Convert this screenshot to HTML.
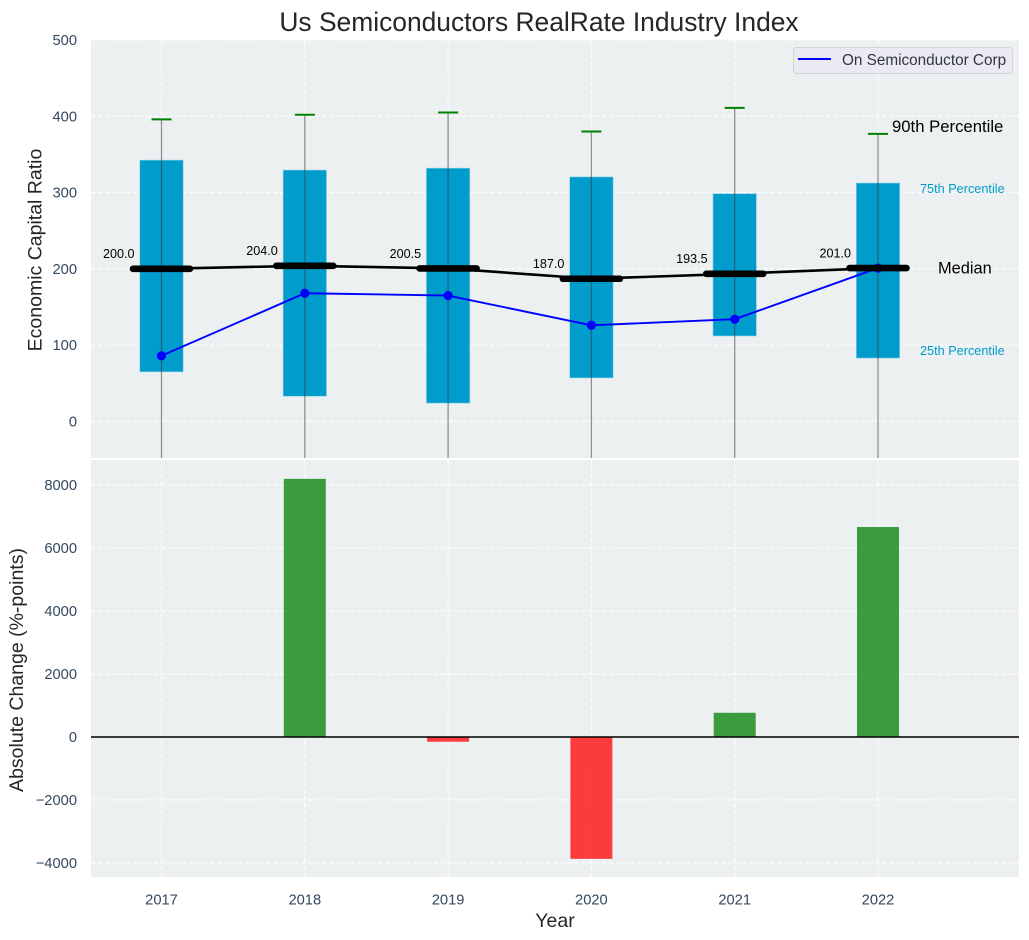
<!DOCTYPE html>
<html>
<head>
<meta charset="utf-8">
<title>Us Semiconductors RealRate Industry Index</title>
<style>
html,body{margin:0;padding:0;background:#fff;}
svg{display:block;font-family:"Liberation Sans",Arial,sans-serif;}
</style>
</head>
<body>
<svg id="chart" xmlns="http://www.w3.org/2000/svg" width="1029" height="940" viewBox="0 0 1029 940">
<defs>
<clipPath id="clip-top"><rect x="91" y="40" width="928" height="418"/></clipPath>
<clipPath id="clip-bottom"><rect x="91" y="460" width="928" height="417"/></clipPath>
</defs>
<rect x="91" y="40" width="928" height="418" fill="#ecf0f1"/>
<rect x="91" y="460" width="928" height="417" fill="#ecf0f1"/>
<g id="grid"></g>
<g id="marks-top" clip-path="url(#clip-top)"></g>
<g id="marks-bottom" clip-path="url(#clip-bottom)"></g>
<g id="labels"></g>
<text x="539" y="31" text-anchor="middle" font-size="26.4" fill="#262626">Us Semiconductors RealRate Industry Index</text>
<text transform="translate(41.5,250) rotate(-90)" text-anchor="middle" font-size="19.5" fill="#262626">Economic Capital Ratio</text>
<text transform="translate(23,670) rotate(-90)" text-anchor="middle" font-size="19.5" fill="#262626">Absolute Change (%-points)</text>
<text x="555" y="927" text-anchor="middle" font-size="19.5" fill="#262626">Year</text>
<g>
<rect x="793.5" y="47.5" width="219" height="26" rx="3" fill="#eaeaf2" stroke="#d2d4d8" stroke-width="1"/>
<line x1="798" y1="59" x2="831" y2="59" stroke="#0000ff" stroke-width="2"/>
<text x="842" y="65" font-size="15.3" fill="#34373d">On Semiconductor Corp</text>
</g>
<text x="892" y="132" font-size="16.7" fill="#000">90th Percentile</text>
<text x="920" y="193" font-size="12.7" fill="#009ccc">75th Percentile</text>
<text x="938" y="273.5" font-size="16.4" fill="#000">Median</text>
<text x="920" y="355" font-size="12.7" fill="#009ccc">25th Percentile</text>
</svg>
<script>
const years = [2017, 2018, 2019, 2020, 2021, 2022];
const p90 = [396, 402, 405, 380, 411, 377];
const p75 = [342.5, 329.5, 332, 320.5, 298.5, 312.5];
const medians = [200, 204, 200.5, 187, 193.5, 201];
const p25 = [65, 33, 24, 57, 112, 83];
const p10 = [-70, -70, -70, -70, -70, -70];
const company = [86, 168, 165, 126, 134, 201];
const absoluteChange = [0, 8200, -150, -3870, 770, 6670];
const topTicks = [0, 100, 200, 300, 400, 500];
const bottomTicks = [-4000, -2000, 0, 2000, 4000, 6000, 8000];

const NS = 'http://www.w3.org/2000/svg';
const xScale = function (v) { return 161.5 + (v - 2017) * 143.3; };
const yTop = function (v) { return 421.4 - v * 0.7628; };
const yBottom = function (v) { return 737 - v * 0.03148; };
const grid = document.getElementById('grid');
const top_ = document.getElementById('marks-top');
const bottom_ = document.getElementById('marks-bottom');
const labels = document.getElementById('labels');

function make(parent, tag, props, text) {
  const el = document.createElementNS(NS, tag);
  for (const k in props) el.setAttribute(k, props[k]);
  if (text !== undefined) el.textContent = text;
  parent.appendChild(el);
  return el;
}
const gridStyle = { stroke: '#ffffff', 'stroke-width': 1.1, 'stroke-dasharray': '4.5 2.5', opacity: 0.95 };

topTicks.forEach(function (t) {
  const line = make(grid, 'line', Object.assign({ x1: 91, x2: 1019, y1: yTop(t), y2: yTop(t) }, gridStyle));
  
  
  const label = make(labels, 'text', { x: 77, y: yTop(t) + 5, 'text-anchor': 'end', 'font-size': 14.7, fill: '#34495e' }, String(t));
  
  
});
bottomTicks.forEach(function (t) {
  const line = make(grid, 'line', Object.assign({ x1: 91, x2: 1019, y1: yBottom(t), y2: yBottom(t) }, gridStyle));
  
  
  const label = make(labels, 'text', { x: 77, y: yBottom(t) + 5, 'text-anchor': 'end', 'font-size': 14.7, fill: '#34495e' }, String(t).replace('-', '\u2212'));
  
  
});
years.forEach(function (yr) {
  const a = make(grid, 'line', Object.assign({ x1: xScale(yr), x2: xScale(yr), y1: 40, y2: 458 }, gridStyle));
  
  
  const b = make(grid, 'line', Object.assign({ x1: xScale(yr), x2: xScale(yr), y1: 460, y2: 877 }, gridStyle));
  
  
  const label = make(labels, 'text', { x: xScale(yr), y: 904.5, 'text-anchor': 'middle', 'font-size': 14.7, fill: '#34495e' }, String(yr));
  
  
});

years.forEach(function (yr, i) {
  const x = xScale(yr);
  const box = make(top_, 'rect', { x: x - 21.7, width: 43.4, y: yTop(p75[i]), height: yTop(p25[i]) - yTop(p75[i]), fill: '#009ccc', stroke: '#8fd0e6', 'stroke-width': 0.6 });
  
  
  const whisker = make(top_, 'line', { x1: x, x2: x, y1: yTop(p90[i]), y2: yTop(p10[i]), stroke: '#3c3c3c', 'stroke-width': 1.3, opacity: 0.55 });
  
  
  const cap = make(top_, 'line', { x1: x - 10, x2: x + 10, y1: yTop(p90[i]), y2: yTop(p90[i]), stroke: '#008000', 'stroke-width': 2 });
  
  
});

const companyLine = make(top_, 'polyline', { points: years.map(function (yr, i) { return xScale(yr) + ',' + yTop(company[i]); }).join(' '), fill: 'none', stroke: '#0000ff', 'stroke-width': 1.9 });


years.forEach(function (yr, i) {
  const dot = make(top_, 'circle', { cx: xScale(yr), cy: yTop(company[i]), r: 4.6, fill: '#0000ff' });
  
  
});

const medianLine = make(top_, 'polyline', { points: years.map(function (yr, i) { return xScale(yr) + ',' + yTop(medians[i]); }).join(' '), fill: 'none', stroke: '#000', 'stroke-width': 2.6 });


years.forEach(function (yr, i) {
  const x = xScale(yr);
  const y = yTop(medians[i]);
  const bar = make(top_, 'line', { x1: x - 28.5, x2: x + 28.5, y1: y, y2: y, stroke: '#000', 'stroke-width': 6.6, 'stroke-linecap': 'round' });
  
  
  const label = make(labels, 'text', { x: x - 27, y: y - 10.6, 'text-anchor': 'end', 'font-size': 12.6, fill: '#000' }, medians[i].toFixed(1));
  
  
});

years.forEach(function (yr, i) {
  const v = absoluteChange[i];
  if (v === 0) return;
  const y0 = yBottom(Math.max(v, 0));
  const y1 = yBottom(Math.min(v, 0));
  const bar = make(bottom_, 'rect', { x: xScale(yr) - 21, width: 42, y: y0, height: y1 - y0, fill: v > 0 ? '#008000' : '#ff0000', opacity: 0.75 });
  
  
});
const zero = make(bottom_, 'line', { x1: 91, x2: 1019, y1: yBottom(0), y2: yBottom(0), stroke: '#000', 'stroke-width': 1.4 });


</script>
</body>
</html>
